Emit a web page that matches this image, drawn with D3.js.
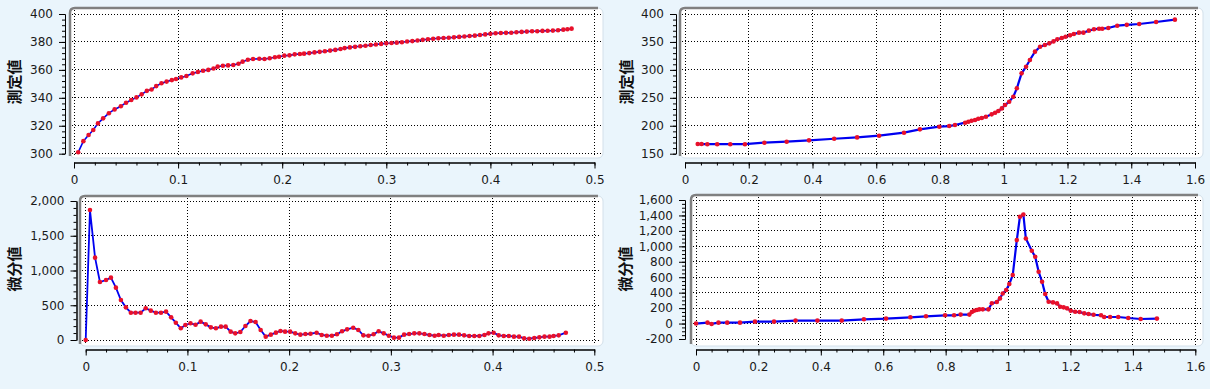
<!DOCTYPE html>
<html>
<head>
<meta charset="utf-8">
<script src="https://d3js.org/d3.v7.min.js"></script>
<style>
  body { margin: 0; background: #eaf5fc; }
  .tick text { font-family: "DejaVu Sans", sans-serif; font-size: 12px; fill: #1a1a1a; }
  .ytitle { font-family: "Noto Sans CJK JP", sans-serif; font-weight: 700; font-size: 15px; fill: #111; }
</style>
</head>
<body>
<div id="chart"></div>
<script>
// ---- data ----
var measureX1 = [0.004,0.009,0.014,0.0185,0.023,0.028,0.0335,0.039,0.045,0.05,0.055,0.06,0.065,0.07,0.0745,0.079,0.084,0.089,0.094,0.098,
  0.103,0.108,0.114,0.119,0.124,0.129,0.134,0.138,0.143,0.148,0.153,0.158,0.162,0.167,0.172,0.178,0.183,0.188,0.193,0.197,
  0.202,0.207,0.212,0.217,0.221,0.226,0.231,0.236,0.241,0.246,0.251,0.256,0.26,0.265,0.27,0.275,0.28,0.285,0.29,0.295,
  0.3,0.305,0.31,0.315,0.32,0.325,0.33,0.335,0.34,0.345,0.35,0.355,0.36,0.365,0.37,0.375,0.38,0.385,0.39,0.395,
  0.4,0.405,0.41,0.415,0.42,0.425,0.43,0.435,0.44,0.445,0.45,0.455,0.46,0.465,0.47,0.474,0.478];
var measureY1 = [301,309,313.4,317,321.7,325.3,329,331.7,334,336.5,338.4,340.3,342.5,345,346,348.4,350.4,351.6,352.7,353.5,
  354.6,355.6,357.5,358.5,359.4,360,361,362.3,363,363.2,363.5,364.4,365.9,367.3,367.8,368,367.8,368.3,369,369.4,
  370.2,370.4,371.1,371.4,371.6,372,372.5,372.9,373.3,373.8,374.3,375,375.6,376.1,376.5,376.9,377.3,377.8,378.2,378.6,
  379,379.2,379.5,379.8,380.3,380.6,381,381.5,381.9,382.3,382.6,382.8,383,383.3,383.6,383.9,384.2,384.5,385,385.4,
  385.8,386.2,386.4,386.5,386.6,386.9,387.2,387.4,387.6,387.7,387.9,388,388.1,388.4,388.8,389.1,389.5];

var diffX1 = [0,0.0042,0.0092,0.014,0.02,0.0248,0.0297,0.0346,0.0395,0.0444,0.049,0.054,0.059,0.064,0.069,0.074,0.079,0.084,0.0886,0.0935,
  0.098,0.103,0.108,0.113,0.118,0.123,0.128,0.133,0.1376,0.1425,0.147,0.152,0.157,0.162,0.167,0.172,0.177,0.182,0.187,0.1915,
  0.196,0.201,0.206,0.211,0.216,0.221,0.227,0.232,0.237,0.242,0.247,0.252,0.257,0.263,0.268,0.273,0.278,0.283,0.288,0.293,
  0.298,0.303,0.308,0.313,0.318,0.323,0.328,0.333,0.338,0.343,0.347,0.352,0.357,0.362,0.367,0.372,0.377,0.382,0.387,0.392,
  0.396,0.401,0.406,0.411,0.416,0.421,0.426,0.431,0.436,0.441,0.446,0.451,0.456,0.46,0.465,0.472];
var diffY1 = [0,1870,1185,834,863,897,753,575,470,393,393,393,456,422,393,393,408,326,249,168,
  216,240,220,264,225,182,168,192,192,120,96,115,201,273,259,144,48,77,106,130,
  120,120,96,77,86,90,105,72,62,62,82,125,153,177,144,67,62,82,125,96,
  62,34,34,77,86,96,96,86,72,62,72,62,72,77,77,67,58,58,58,72,
  96,105,67,58,58,48,48,24,19,29,38,48,48,58,67,105];

var measureX2 = [0.04,0.052,0.07,0.101,0.142,0.188,0.249,0.319,0.389,0.468,0.54,0.609,0.687,0.737,0.798,0.829,0.847,0.879,0.889,0.899,
  0.91,0.92,0.931,0.944,0.962,0.973,0.983,0.994,1.004,1.017,1.03,1.041,1.056,1.07,1.082,1.098,1.114,1.129,1.143,1.156,
  1.168,1.182,1.194,1.208,1.22,1.236,1.25,1.267,1.283,1.299,1.309,1.328,1.356,1.386,1.425,1.478,1.537];
var measureY2 = [167.3,167.3,167,167,167,167,169.7,171.5,173.9,176.8,179.2,182.2,187.6,193.6,198.3,199.5,201.3,205.5,207.3,209,
  210.3,212.6,213.8,216.2,220.4,223.4,226.4,231.1,237.1,243.1,252,267,293.8,305.7,317.7,332.6,341.5,344.5,347.5,351,
  354.7,357,359.4,361.8,364.2,366.6,366.6,370.2,372.6,373.7,373.7,374.9,379.1,380.6,382.1,385.7,389.9];

var diffX2 = [0,0.037,0.05,0.072,0.1,0.141,0.189,0.25,0.319,0.389,0.467,0.538,0.609,0.687,0.737,0.798,0.827,0.848,0.876,0.884,
  0.891,0.9,0.908,0.919,0.937,0.948,0.964,0.974,0.983,0.994,1.004,1.015,1.028,1.038,1.049,1.057,1.076,1.087,1.098,1.109,
  1.119,1.13,1.144,1.157,1.167,1.178,1.189,1.201,1.215,1.229,1.244,1.258,1.274,1.298,1.308,1.327,1.353,1.385,1.425,1.477];
var diffY2 = [0,12,-5,12,12,12,25,25,38,38,38,55,64,81,94,107,107,116,116,150,
  166,175,184,184,184,262,279,326,390,434,512,628,1081,1383,1413,1102,943,865,671,542,
  382,283,274,261,218,210,197,166,153,149,132,123,114,107,85,85,85,72,59,64];

// ---- ticks ----
var xTicksA = [0,0.1,0.2,0.3,0.4,0.5];
var xLabelsA = ["0","0.1","0.2","0.3","0.4","0.5"];
var xTicksB = [0,0.2,0.4,0.6,0.8,1,1.2,1.4,1.6];
var xLabelsB = ["0","0.2","0.4","0.6","0.8","1","1.2","1.4","1.6"];
var yTicks1 = [300,320,340,360,380,400];
var yLabels1 = ["300","320","340","360","380","400"];
var yTicks2 = [150,200,250,300,350,400];
var yLabels2 = ["150","200","250","300","350","400"];
var yTicks3 = [0,500,1000,1500,2000];
var yLabels3 = ["0","500","1,000","1,500","2,000"];
var yTicks4 = [-200,0,200,400,600,800,1000,1200,1400,1600];
var yLabels4 = ["-200","0","200","400","600","800","1,000","1,200","1,400","1,600"];
var yTitleTop = "測定値";
var yTitleBottom = "微分値";

var svg = d3.select("#chart").append("svg")
  .attr("width", 1210).attr("height", 389);

svg.append("rect").attr("width", 1210).attr("height", 389).attr("fill", "#eaf5fc");

function drawPanel(p) {
  var g = svg.append("g");

  // plot area
  g.append("rect")
    .attr("x", p.box[0]).attr("y", p.box[1])
    .attr("width", p.box[2] - p.box[0]).attr("height", p.box[3] - p.box[1])
    .attr("rx", 5).attr("fill", "#fff").attr("stroke", "#d3e0ea").attr("stroke-width", 1);
  var r = 5;
  g.append("path")
    .attr("d", "M" + p.box[0] + "," + (p.box[3] - 2) + "L" + p.box[0] + "," + (p.box[1] + r) +
      "Q" + p.box[0] + "," + p.box[1] + " " + (p.box[0] + r) + "," + p.box[1] + "L" + (p.box[2] - r) + "," + p.box[1])
    .attr("fill", "none").attr("stroke", "#808080").attr("stroke-width", 2.5);

  var x = d3.scaleLinear().domain(p.xDomain).range(p.xRange);
  var y = d3.scaleLinear().domain(p.yDomain).range(p.yRange);

  // grid
  g.selectAll(".vgrid").data(p.xTicks).enter().append("line")
    .attr("x1", function (d) { return x(d); }).attr("x2", function (d) { return x(d); })
    .attr("y1", p.box[1] + 2).attr("y2", p.box[3] - 1)
    .attr("stroke", "#000").attr("stroke-dasharray", "1,2").attr("shape-rendering", "crispEdges");
  g.selectAll(".hgrid").data(p.yTicks).enter().append("line")
    .attr("x1", p.box[0] + 2).attr("x2", p.box[2] - 2)
    .attr("y1", function (d) { return y(d); }).attr("y2", function (d) { return y(d); })
    .attr("stroke", "#000").attr("stroke-dasharray", "1,2").attr("shape-rendering", "crispEdges");

  // axes
  var yAxisG = g.append("g").attr("transform", "translate(" + p.yAxisX + ",0)");
  yAxisG.call(d3.axisLeft(y).tickValues(p.yMinor).tickSize(3).tickSizeOuter(0).tickFormat(""));
  yAxisG.append("g").call(d3.axisLeft(y).tickValues(p.yTicks).tickSize(6).tickSizeOuter(0).tickPadding(6)
    .tickFormat(function (d, i) { return p.yLabels[i]; }));

  var xAxisG = g.append("g").attr("transform", "translate(0," + p.xAxisY + ")");
  xAxisG.call(d3.axisBottom(x).tickValues(p.xMinor).tickSize(3).tickSizeOuter(0).tickFormat(""));
  xAxisG.append("g").call(d3.axisBottom(x).tickValues(p.xTicks).tickSize(6).tickSizeOuter(0).tickPadding(7)
    .tickFormat(function (d, i) { return p.xLabels[i]; }));

  g.selectAll(".domain").attr("stroke", "#000");
  g.selectAll(".tick line").attr("stroke", "#000");

  // title
  g.append("text").attr("class", "ytitle")
    .attr("transform", "translate(" + p.titleX + "," + p.titleY + ") rotate(-90)")
    .attr("text-anchor", "middle").attr("dy", "0.35em")
    .text(p.title);

  // line + points
  var pts = p.xs.map(function (d, i) { return [d, p.ys[i]]; });
  var line = d3.line().x(function (d) { return x(d[0]); }).y(function (d) { return y(d[1]); });
  g.append("path").datum(pts).attr("d", line)
    .attr("fill", "none").attr("stroke", "#0000f0").attr("stroke-width", p.lineWidth);
  g.selectAll(".pt").data(pts).enter().append("circle")
    .attr("cx", function (d) { return x(d[0]); })
    .attr("cy", function (d) { return y(d[1]); })
    .attr("r", 2.3).attr("fill", "#e8102a");
}

function range(a, b, s) { return d3.range(a, b + s / 2, s); }

drawPanel({
  box: [70, 8, 603, 158], xDomain: [0, 0.5], xRange: [74, 594.5], yDomain: [300, 400], yRange: [153.7, 14],
  yAxisX: 65, xAxisY: 162.5, xTicks: xTicksA, xLabels: xLabelsA, xMinor: range(0, 0.5, 0.02),
  yTicks: yTicks1, yLabels: yLabels1, yMinor: range(300, 400, 4),
  title: yTitleTop, titleX: 15, titleY: 82, xs: measureX1, ys: measureY1, lineWidth: 1.6
});
drawPanel({
  box: [680, 8, 1203, 158], xDomain: [0, 1.6], xRange: [685, 1195], yDomain: [150, 400], yRange: [153.7, 14],
  yAxisX: 676, xAxisY: 162.5, xTicks: xTicksB, xLabels: xLabelsB, xMinor: range(0, 1.6, 0.05),
  yTicks: yTicks2, yLabels: yLabels2, yMinor: range(150, 400, 10),
  title: yTitleTop, titleX: 627, titleY: 82, xs: measureX2, ys: measureY2, lineWidth: 2.2
});
drawPanel({
  box: [80, 196, 603, 346], xDomain: [0, 0.5], xRange: [85.7, 594.3], yDomain: [0, 2000], yRange: [340, 201],
  yAxisX: 76.5, xAxisY: 349.5, xTicks: xTicksA, xLabels: xLabelsA, xMinor: range(0, 0.5, 0.02),
  yTicks: yTicks3, yLabels: yLabels3, yMinor: range(0, 2000, 100),
  title: yTitleBottom, titleX: 15, titleY: 269, xs: diffX1, ys: diffY1, lineWidth: 1.8
});
drawPanel({
  box: [691, 195, 1203, 346], xDomain: [0, 1.6], xRange: [696, 1195.3], yDomain: [-200, 1600], yRange: [339, 200],
  yAxisX: 685, xAxisY: 349.5, xTicks: xTicksB, xLabels: xLabelsB, xMinor: range(0, 1.6, 0.05),
  yTicks: yTicks4, yLabels: yLabels4, yMinor: range(-200, 1600, 50),
  title: yTitleBottom, titleX: 626, titleY: 269, xs: diffX2, ys: diffY2, lineWidth: 2.2
});
</script>
</body>
</html>
